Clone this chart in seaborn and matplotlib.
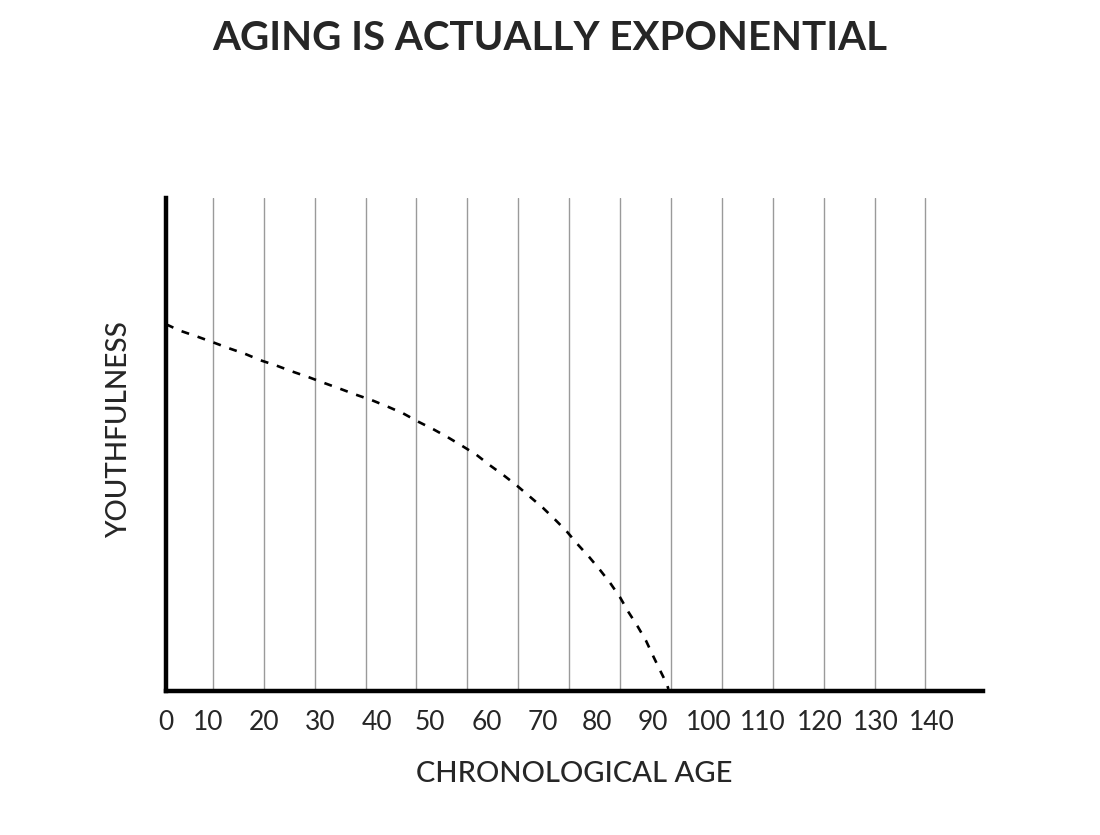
import pandas as pd
import matplotlib.pyplot as plt
import seaborn as sns

# curve (x in gridline units, y in 0-100 youthfulness)
age = [0.8, 1.2, 3.5, 6.9, 10.1, 13.2, 16.3, 19.3, 22.5, 25.6, 28.7, 31.8, 35.0,
       38.1, 41.2, 44.3, 47.4, 50.4, 53.3, 56.1, 59.0, 61.8, 64.4, 67.2, 69.8,
       72.3, 74.8, 77.2, 79.5, 81.8, 84.0, 86.1, 88.0, 90.0, 91.6, 93.4, 95.1,
       96.5, 98.0, 99.2, 99.5]
youth = [74.2, 74.2, 73.1, 71.9, 70.7, 69.5, 68.4, 67.1, 66.0, 64.8, 63.7, 62.5,
         61.3, 60.1, 59.0, 57.7, 56.3, 54.6, 53.1, 51.5, 49.7, 47.9, 45.8, 43.7,
         41.6, 39.4, 37.2, 34.8, 32.4, 29.6, 27.1, 24.5, 22.0, 19.0, 16.1, 13.2,
         10.2, 7.1, 3.9, 1.4, 0.4]

grid_ages = list(range(10, 160, 10))
tick_labels = [str(v) for v in range(0, 150, 10)]

df = pd.DataFrame({"age": age, "youth": youth})

sns.set_style("white")
plt.rcParams["font.family"] = ["Lato", "DejaVu Sans"]

fig = plt.figure(figsize=(11, 8.35), dpi=100)
ax = fig.add_axes([0.1509, 0.1725, 0.7427, 0.5904])

sns.lineplot(data=df, x="age", y="youth", ax=ax, color="black",
             linewidth=1.9, linestyle=(0, (3.0, 3.4)))

# vertical gridlines
ax.set_xticks(grid_ages)
ax.set_xticklabels([])
ax.tick_params(axis="x", which="major", length=0)
ax.grid(axis="x", which="major", color="#9a9a9a", linewidth=1.0)
ax.set_axisbelow(True)

# tick labels sit on their own spacing in the original (not on the gridlines)
label_pos = [0.8, 9.0, 20.0, 31.0, 42.2, 52.7, 63.9, 74.9, 85.5, 96.5,
             107.5, 118.1, 129.3, 140.3, 151.3]
ax.xaxis.remove_overlapping_locs = False
ax.set_xticks(label_pos, minor=True)
ax.set_xticklabels(tick_labels, minor=True, fontsize=19)
ax.tick_params(axis="x", which="minor", length=0, pad=14)

ax.set_yticks([])
ax.set_xlim(0.8, 161.3)
ax.set_ylim(0, 100)

for s in ["top", "right"]:
    ax.spines[s].set_visible(False)
for s in ["left", "bottom"]:
    ax.spines[s].set_color("black")
    ax.spines[s].set_linewidth(3.2)

ax.set_xlabel("CHRONOLOGICAL AGE", fontsize=21, fontweight="medium")
ax.xaxis.set_label_coords(0.5, -0.143)
ax.set_ylabel("YOUTHFULNESS", fontsize=20, fontweight="medium")
ax.yaxis.set_label_coords(-0.041, 0.531)

fig.text(0.5, 1 - 39 / 835, "AGING IS ACTUALLY EXPONENTIAL", ha="center",
         va="center", fontsize=29, fontweight="bold")

fig.savefig("out.png", dpi=100)
